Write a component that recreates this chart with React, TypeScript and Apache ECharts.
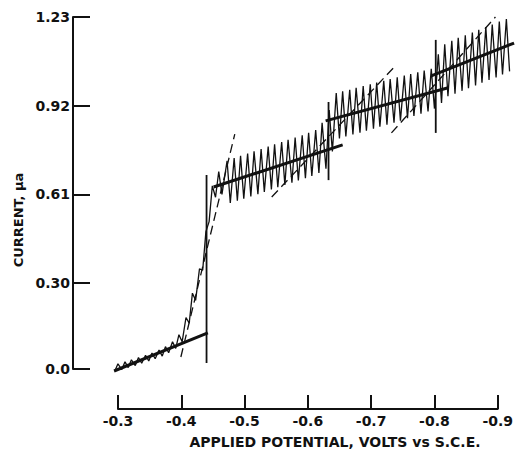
import { useEffect, useRef } from "react";
import * as echarts from "echarts";

const FONT = '"DejaVu Sans", sans-serif';

// Axis ticks
const yTickValues = [0, 0.3, 0.61, 0.92, 1.23];
const yTickLabels = ["0.0", "0.30", "0.61", "0.92", "1.23"];
const xTickValues = [-0.3, -0.4, -0.5, -0.6, -0.7, -0.8, -0.9];

// Oscillating polarographic trace: [potential V vs S.C.E., current µa]
const trace: [number, number][] = [
  [-0.295, -0.008], [-0.300, 0.018], [-0.306, -0.002], [-0.311, 0.025],
  [-0.316, 0.005], [-0.321, 0.032], [-0.327, 0.012], [-0.332, 0.040],
  [-0.337, 0.020], [-0.343, 0.048], [-0.348, 0.028], [-0.353, 0.056],
  [-0.358, 0.036], [-0.364, 0.066], [-0.369, 0.045], [-0.374, 0.078],
  [-0.379, 0.057], [-0.385, 0.095], [-0.390, 0.072], [-0.395, 0.120],
  [-0.400, 0.095], [-0.406, 0.180], [-0.411, 0.160], [-0.416, 0.265],
  [-0.421, 0.240], [-0.427, 0.350], [-0.432, 0.345], [-0.437, 0.480],
  [-0.442, 0.515], [-0.447, 0.640], [-0.452, 0.600], [-0.457, 0.690],
  [-0.462, 0.610], [-0.470, 0.727], [-0.475, 0.580], [-0.481, 0.737],
  [-0.486, 0.588], [-0.491, 0.745], [-0.496, 0.595], [-0.502, 0.753],
  [-0.507, 0.603], [-0.512, 0.761], [-0.518, 0.611], [-0.523, 0.769],
  [-0.528, 0.619], [-0.534, 0.777], [-0.539, 0.627], [-0.544, 0.785],
  [-0.549, 0.635], [-0.555, 0.793], [-0.560, 0.643], [-0.565, 0.801],
  [-0.571, 0.651], [-0.576, 0.809], [-0.581, 0.659], [-0.587, 0.817],
  [-0.592, 0.667], [-0.597, 0.825], [-0.602, 0.675], [-0.608, 0.835],
  [-0.613, 0.685], [-0.618, 0.860], [-0.624, 0.700], [-0.629, 0.905],
  [-0.634, 0.760], [-0.640, 0.964], [-0.645, 0.806], [-0.650, 0.970],
  [-0.655, 0.813], [-0.661, 0.976], [-0.666, 0.820], [-0.671, 0.983],
  [-0.677, 0.826], [-0.682, 0.989], [-0.687, 0.833], [-0.693, 0.995],
  [-0.698, 0.840], [-0.703, 1.001], [-0.708, 0.847], [-0.714, 1.007],
  [-0.719, 0.854], [-0.724, 1.013], [-0.730, 0.861], [-0.735, 1.019],
  [-0.740, 0.868], [-0.746, 1.025], [-0.751, 0.876], [-0.756, 1.031],
  [-0.761, 0.884], [-0.767, 1.037], [-0.772, 0.892], [-0.777, 1.043],
  [-0.783, 0.900], [-0.788, 1.049], [-0.793, 0.910], [-0.799, 1.100],
  [-0.804, 0.930], [-0.809, 1.135], [-0.814, 0.953], [-0.820, 1.147],
  [-0.825, 0.962], [-0.830, 1.157], [-0.836, 0.972], [-0.841, 1.166],
  [-0.846, 0.981], [-0.852, 1.176], [-0.857, 0.991], [-0.862, 1.185],
  [-0.867, 1.000], [-0.873, 1.195], [-0.878, 1.010], [-0.883, 1.204],
  [-0.889, 1.019], [-0.894, 1.214], [-0.899, 1.029], [-0.905, 1.223],
  [-0.910, 1.040],
];

// Thick extrapolation lines
const residualLine: [number, number][] = [[-0.294, -0.007], [-0.44, 0.126]];
const plateau1Line: [number, number][] = [[-0.449, 0.636], [-0.65, 0.783]];
const plateau2Line: [number, number][] = [[-0.6235, 0.867], [-0.813, 0.982]];
const plateau3Line: [number, number][] = [[-0.788, 1.024], [-0.917, 1.139]];

// Vertical half-wave markers
const halfWave1: [number, number][] = [[-0.438, 0.021], [-0.438, 0.678]];
const halfWave2: [number, number][] = [[-0.628, 0.66], [-0.628, 0.933]];
const halfWave3: [number, number][] = [[-0.795, 0.825], [-0.795, 1.15]];

// Dashed tangents
const tangent1: [number, number][] = [[-0.398, 0.042], [-0.482, 0.821]];
const tangent2: [number, number][] = [[-0.5395, 0.601], [-0.729, 1.052]];
const tangent3: [number, number][] = [[-0.726, 0.825], [-0.888, 1.23]];

const INK = "#111";

function lineSeries(data: [number, number][], width: number, type: any = "solid") {
  return {
    type: "line",
    xAxisIndex: 0,
    yAxisIndex: 0,
    data,
    symbol: "none",
    clip: false,
    silent: true,
    lineStyle: { color: INK, width, type, cap: "butt" },
    z: 3,
  };
}

export default function App() {
  const ref = useRef<HTMLDivElement>(null);

  useEffect(() => {
    if (!ref.current) return;
    const chart = echarts.init(ref.current, undefined, { renderer: "svg" });
    chart.setOption({
      animation: false,
      backgroundColor: "#fff",
      grid: [
        { left: 73, top: 17, width: 443, height: 352 },
        { left: 118, top: 395, width: 385, height: 14 },
      ],
      xAxis: [
        {
          gridIndex: 0,
          type: "value",
          min: -0.92,
          max: -0.23,
          inverse: true,
          show: false,
        },
        {
          gridIndex: 1,
          type: "value",
          min: -0.9,
          max: -0.3,
          interval: 0.1,
          inverse: true,
          position: "bottom",
          axisLine: { show: true, onZero: false, lineStyle: { color: INK, width: 2 } },
          axisTick: { show: true, inside: true, length: 14, lineStyle: { color: INK, width: 2 } },
          axisLabel: {
            margin: 5,
            color: INK,
            fontFamily: FONT,
            fontWeight: "bold",
            fontSize: 14,
            formatter: (v: number) => {
              const m = xTickValues.find((t) => Math.abs(t - v) < 1e-6);
              return m === undefined ? "" : m.toFixed(1);
            },
          },
          splitLine: { show: false },
        },
      ],
      yAxis: [
        {
          gridIndex: 0,
          type: "value",
          min: 0,
          max: 1.23,
          axisLine: { show: true, lineStyle: { color: INK, width: 2 } },
          axisTick: {
            show: true,
            inside: true,
            length: 17,
            customValues: yTickValues,
            lineStyle: { color: INK, width: 2 },
          },
          axisLabel: {
            margin: 3,
            color: INK,
            fontFamily: FONT,
            fontWeight: "bold",
            fontSize: 14,
            customValues: yTickValues,
            formatter: (v: number) => {
              const i = yTickValues.findIndex((t) => Math.abs(t - v) < 1e-6);
              return i < 0 ? "" : yTickLabels[i];
            },
          },
          splitLine: { show: false },
        },
        {
          gridIndex: 1,
          type: "value",
          min: 0,
          max: 1,
          show: false,
        },
      ],
      graphic: [
        {
          type: "text",
          x: 335,
          y: 442,
          style: {
            text: "APPLIED POTENTIAL, VOLTS vs S.C.E.",
            fill: INK,
            fontFamily: FONT,
            fontWeight: "bold",
            fontSize: 14,
            textAlign: "center",
            textVerticalAlign: "middle",
          },
        },
        {
          type: "text",
          x: 18,
          y: 220,
          rotation: Math.PI / 2,
          style: {
            text: "CURRENT, μa",
            fill: INK,
            fontFamily: FONT,
            fontWeight: "bold",
            fontSize: 13,
            textAlign: "center",
            textVerticalAlign: "middle",
          },
        },
      ],
      series: [
        { ...lineSeries(trace, 1.3), z: 2 },
        lineSeries(residualLine, 3),
        lineSeries(plateau1Line, 3),
        lineSeries(plateau2Line, 3),
        lineSeries(plateau3Line, 3),
        lineSeries(halfWave1, 1.8),
        lineSeries(halfWave2, 1.8),
        lineSeries(halfWave3, 1.8),
        lineSeries(tangent1, 1.3, [9, 5]),
        lineSeries(tangent2, 1.3, [9, 5]),
        lineSeries(tangent3, 1.3, [9, 5]),
      ],
    });
    return () => chart.dispose();
  }, []);

  return (
    <div
      ref={ref}
      style={{ position: "fixed", left: 0, top: 0, width: 516, height: 450, background: "#fff" }}
    />
  );
}
